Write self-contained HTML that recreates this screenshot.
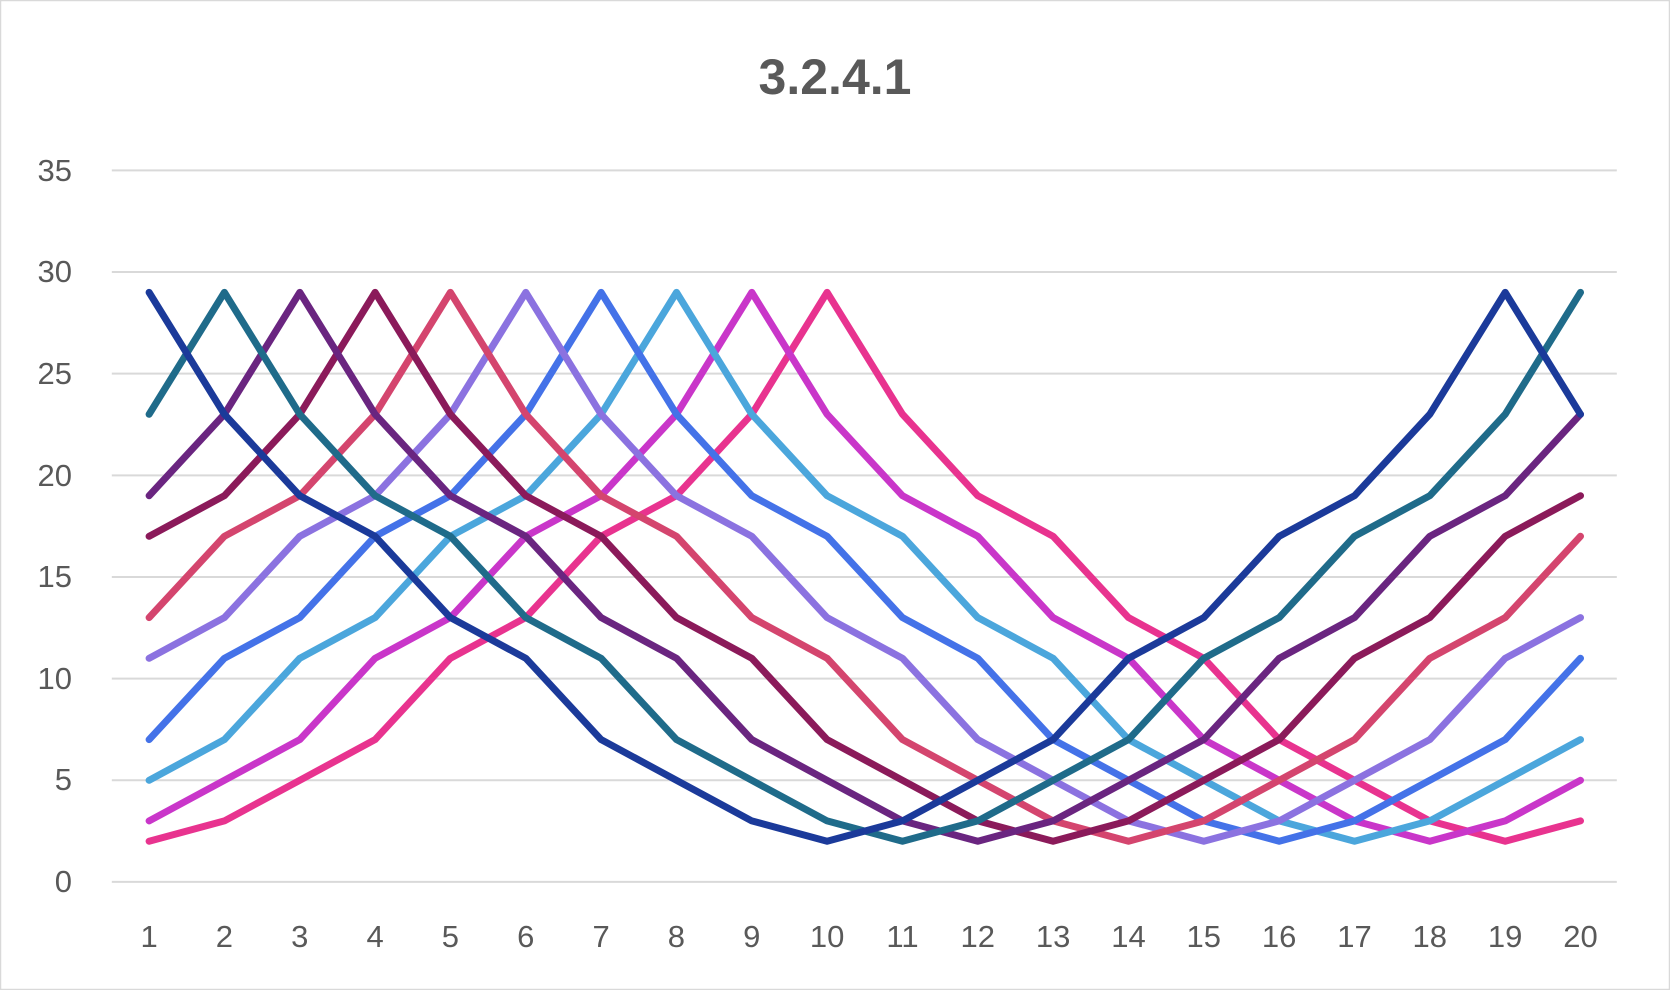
<!DOCTYPE html>
<html><head><meta charset="utf-8">
<style>
html,body{margin:0;padding:0;background:#fff;}
svg{display:block;}
text{font-family:"Liberation Sans",sans-serif;fill:#595959;}
</style></head>
<body>
<svg id="c" width="1670" height="990" viewBox="0 0 1670 990" xmlns="http://www.w3.org/2000/svg">
<rect x="0.5" y="0.5" width="1669" height="989" fill="#fff" stroke="#d9d9d9" stroke-width="1.5"/>
<text x="835" y="94" text-anchor="middle" font-size="50" font-weight="bold">3.2.4.1</text>
<g id="grid" stroke="#d9d9d9" stroke-width="2"></g>
<g font-size="31" text-anchor="end">
<text x="72" y="892">0</text>
<text x="72" y="790">5</text>
<text x="72" y="689">10</text>
<text x="72" y="587">15</text>
<text x="72" y="486">20</text>
<text x="72" y="384">25</text>
<text x="72" y="282">30</text>
<text x="72" y="181">35</text>
</g>
<g font-size="31" text-anchor="middle">
<text x="149.1" y="947">1</text><text x="224.4" y="947">2</text><text x="299.8" y="947">3</text><text x="375.1" y="947">4</text><text x="450.4" y="947">5</text>
<text x="525.8" y="947">6</text><text x="601.1" y="947">7</text><text x="676.4" y="947">8</text><text x="751.8" y="947">9</text><text x="827.1" y="947">10</text>
<text x="902.5" y="947">11</text><text x="977.8" y="947">12</text><text x="1053.1" y="947">13</text><text x="1128.5" y="947">14</text><text x="1203.8" y="947">15</text>
<text x="1279.1" y="947">16</text><text x="1354.5" y="947">17</text><text x="1429.8" y="947">18</text><text x="1505.1" y="947">19</text><text x="1580.5" y="947">20</text>
</g>
<g id="lines" fill="none" stroke-width="7" stroke-linejoin="round" stroke-linecap="round"></g>
</svg>
<script>
var ns="http://www.w3.org/2000/svg";
var y0=881.9,y35=170.4,x1=149.1,x20=1580.5;
function Y(v){return y0-(y0-y35)*v/35;}
function X(i){return x1+(x20-x1)*(i-1)/19;}
var g=document.getElementById('grid');
for(var v=0;v<=35;v+=5){var l=document.createElementNS(ns,'line');l.setAttribute('x1',111.8);l.setAttribute('x2',1616.8);l.setAttribute('y1',Y(v));l.setAttribute('y2',Y(v));g.appendChild(l);}
var vals=[29,23,19,17,13,11,7,5,3,2];
var cols=['#1b3a9a','#1f6b8a','#6a2580','#8b1a5a','#d4456e','#8b72e0','#4472e8','#4ba6dc','#c936c9','#e8338f'];
var L=document.getElementById('lines');
for(var k=9;k>=0;k--){var p=k+1,pts=[];
for(var x=1;x<=20;x++){var d=Math.abs(x-p)%18;d=Math.min(d,18-d);pts.push(X(x).toFixed(1)+','+Y(vals[d]).toFixed(1));}
var pl=document.createElementNS(ns,'polyline');pl.setAttribute('points',pts.join(' '));pl.setAttribute('stroke',cols[k]);L.appendChild(pl);}
</script>
</body></html>
